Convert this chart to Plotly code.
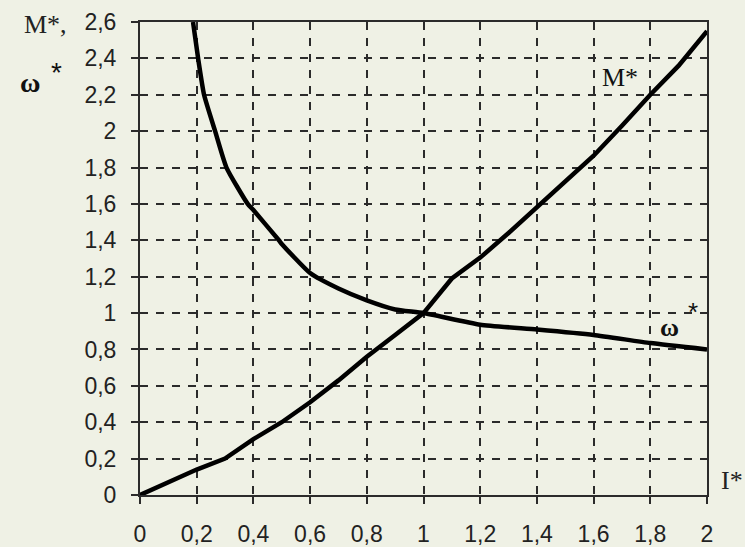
import plotly.graph_objects as go

# Data
m_x = [0, 0.2, 0.3, 0.4, 0.5, 0.6, 0.7, 0.8, 0.9, 1.0, 1.1, 1.2, 1.3, 1.4, 1.5, 1.6, 1.7, 1.8, 1.9, 2.0]
m_y = [0, 0.14, 0.2, 0.307, 0.4, 0.51, 0.63, 0.76, 0.88, 1.0, 1.19, 1.305, 1.44, 1.58, 1.72, 1.865, 2.03, 2.2, 2.36, 2.55]

w_x = [0.187, 0.205, 0.226, 0.265, 0.305, 0.38, 0.4, 0.49, 0.5, 0.6, 0.7, 0.8, 0.9, 1.0, 1.2, 1.4, 1.6, 1.8, 2.0]
w_y = [2.6, 2.4, 2.2, 2.0, 1.8, 1.6, 1.566, 1.4, 1.38, 1.22, 1.135, 1.07, 1.02, 1.0, 0.936, 0.91, 0.88, 0.835, 0.8]

x_ticks = [0, 0.2, 0.4, 0.6, 0.8, 1.0, 1.2, 1.4, 1.6, 1.8, 2.0]
x_tick_text = ["0", "0,2", "0,4", "0,6", "0,8", "1", "1,2", "1,4", "1,6", "1,8", "2"]
y_ticks = [0, 0.2, 0.4, 0.6, 0.8, 1.0, 1.2, 1.4, 1.6, 1.8, 2.0, 2.2, 2.4, 2.6]
y_tick_text = ["0", "0,2", "0,4", "0,6", "0,8", "1", "1,2", "1,4", "1,6", "1,8", "2", "2,2", "2,4", "2,6"]

BG = "#eff1e5"
INK = "#2b2b2b"

fig = go.Figure()
fig.add_trace(go.Scatter(x=m_x, y=m_y, mode="lines", line=dict(color="black", width=4.5), showlegend=False))
fig.add_trace(go.Scatter(x=w_x, y=w_y, mode="lines",
                         line=dict(color="black", width=4.5, shape="spline", smoothing=0.5), showlegend=False))

axis_common = dict(
    showline=True, linecolor=INK, linewidth=2, mirror=True,
    ticks="outside", ticklen=7, tickwidth=2, tickcolor=INK,
    showgrid=True, gridcolor=INK, gridwidth=2, griddash="8px,8px",
    zeroline=False, automargin=False,
    tickfont=dict(family="Liberation Sans, Arial", size=23, color="#222"),
)

fig.update_xaxes(range=[0, 2], tickvals=x_ticks, ticktext=x_tick_text, ticklabelstandoff=10, **axis_common)
fig.update_yaxes(range=[0, 2.6], tickvals=y_ticks, ticktext=y_tick_text, ticklabelstandoff=10, **axis_common)

serif = dict(family="Liberation Serif, Times New Roman", size=26, color="#222")
ann = dict(showarrow=False, xanchor="center", yanchor="middle")
fig.add_annotation(xref="paper", yref="paper", x=-0.1658, y=0.9937, text="M*,", font=serif, **ann)
fig.add_annotation(xref="paper", yref="paper", x=-0.194, y=0.873, text="<b>ω</b>",
                   font=dict(family="Liberation Serif", size=28, color="#111"), **ann)
fig.add_annotation(xref="paper", yref="paper", x=-0.148, y=0.893, text="*",
                   font=dict(family="Liberation Sans", size=28, color="#111"), **ann)
fig.add_annotation(xref="paper", yref="paper", x=1.044, y=0.0317, text="I*", font=serif, **ann)
fig.add_annotation(x=1.693, y=2.297, text="M*", font=dict(family="Liberation Serif", size=26, color="#111"), **ann)
fig.add_annotation(x=1.866, y=0.923, text="<b>ω</b>",
                   font=dict(family="Liberation Serif", size=26, color="#111"), **ann)
fig.add_annotation(x=1.95, y=1.005, text="*",
                   font=dict(family="Liberation Sans", size=26, color="#111"), **ann)

fig.update_layout(
    width=745, height=547,
    margin=dict(l=140, r=38, t=22, b=52),
    paper_bgcolor=BG, plot_bgcolor=BG,
)

fig.write_html("out.html", config={"displayModeBar": False},
               post_script="document.body.style.margin='0';document.body.style.background='%s';" % BG)
